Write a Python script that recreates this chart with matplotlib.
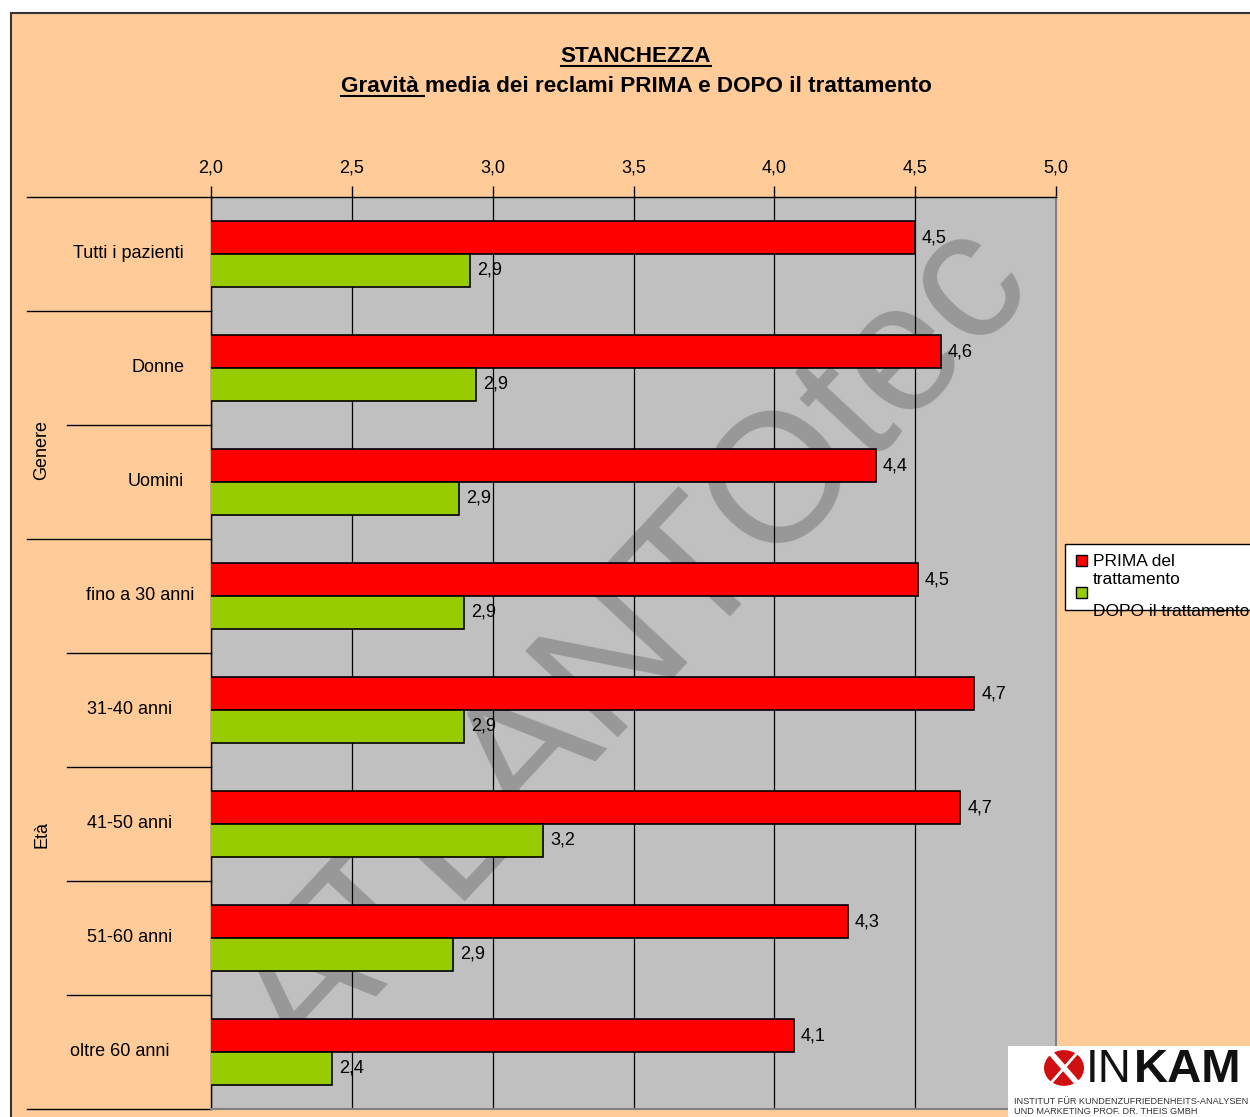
import numpy as np
import matplotlib.pyplot as plt
from matplotlib.patches import Rectangle, Circle
from matplotlib.lines import Line2D

plt.rcParams['font.family'] = ['Liberation Sans', 'DejaVu Sans']

# data
categories = ['Tutti i pazienti', 'Donne', 'Uomini', 'fino a 30 anni',
              '31-40 anni', '41-50 anni', '51-60 anni', 'oltre 60 anni']
prima = [4.50, 4.59, 4.36, 4.51, 4.71, 4.66, 4.26, 4.07]
dopo = [2.92, 2.94, 2.88, 2.90, 2.90, 3.18, 2.86, 2.43]
groups = ['Genere', 'Età']
series_names = ['PRIMA del\ntrattamento', 'DOPO il trattamento']
xticks = [2.0, 2.5, 3.0, 3.5, 4.0, 4.5, 5.0]

W, H = 1250, 1117
def fx(px):
    return px / W
def fy(py):
    return 1 - py / H

RED = '#FF0000'
GREEN = '#99CC00'
PEACH = '#FFCC99'

fig = plt.figure(figsize=(12.5, 11.17), dpi=100)
fig.patch.set_facecolor('white')
fig.add_artist(Rectangle((fx(11), -0.05), 1.0, fy(13) + 0.05, transform=fig.transFigure,
                         facecolor=PEACH, edgecolor='#333333', lw=1.5, zorder=0))

ax = fig.add_axes([fx(211), fy(1109), (1056 - 211) / W, (1109 - 197) / H])
ax.set_facecolor('#C0C0C0')
ax.set_xlim(2, 5)
ax.set_ylim(len(categories) - 0.5, -0.5)

ax.xaxis.tick_top()
ax.set_xticks(xticks)
ax.set_xticklabels([f'{t:.1f}'.replace('.', ',') for t in xticks])
ax.tick_params(axis='x', direction='out', length=8, width=1, pad=7, labelsize=13,
               top=True, bottom=False, labelbottom=False)
ax.set_yticks([])
ax.set_axisbelow(True)
ax.grid(axis='x', color='black', lw=0.9)
for s in ['top', 'left']:
    ax.spines[s].set_color('black')
    ax.spines[s].set_linewidth(1)
for s in ['right', 'bottom']:
    ax.spines[s].set_color('#808080')
    ax.spines[s].set_linewidth(1.5)

# watermark
ax.text(3.51, 3.45, 'ATLANTOtec', rotation=47, fontsize=132, color='#989898',
        ha='center', va='center', zorder=0.2, clip_on=True)

y = np.arange(len(categories))
h = 0.286
ax.barh(y - h / 2, prima, height=h, color=RED, edgecolor='black', lw=1.2, zorder=3)
ax.barh(y + h / 2, dopo, height=h, color=GREEN, edgecolor='black', lw=1.2, zorder=3)
for yi, v in zip(y - h / 2, prima):
    ax.annotate(f'{v:.1f}'.replace('.', ','), xy=(v, yi), xytext=(5, 0),
                textcoords='offset points', va='center', ha='left', fontsize=13, zorder=4)
for yi, v in zip(y + h / 2, dopo):
    ax.annotate(f'{v:.1f}'.replace('.', ','), xy=(v, yi), xytext=(5, 0),
                textcoords='offset points', va='center', ha='left', fontsize=13, zorder=4)

# category labels and separators on the left
tr = ax.get_yaxis_transform()
def axx(px):
    return (px - 211) / 845
label_px = [128, 158, 156, 140, 130, 130, 130, 120]
for yi, lab, px in zip(y, categories, label_px):
    ax.text(axx(px), yi, lab, transform=tr, ha='center', va='center', fontsize=13, clip_on=False)
sep_start = [27, 27, 67, 27, 67, 67, 67, 67, 27]
for b, px in zip(np.arange(-0.5, len(categories)), sep_start):
    ax.add_line(Line2D([axx(px), 0], [b, b], transform=tr, color='black', lw=1, clip_on=False))
ax.text(axx(42), (450 - 197) / 114 - 0.5, groups[0], transform=tr, rotation=90,
        ha='center', va='center', fontsize=13, clip_on=False)
ax.text(axx(42), (835 - 197) / 114 - 0.5, groups[1], transform=tr, rotation=90,
        ha='center', va='center', fontsize=13, clip_on=False)

# title with underlines
t1 = fig.text(fx(636), fy(56), 'STANCHEZZA', ha='center', va='center', fontsize=16.2, fontweight='bold')
line2 = 'Gravità media dei reclami PRIMA e DOPO il trattamento'
t2 = fig.text(fx(636), fy(86), line2, ha='center', va='center', fontsize=16.2, fontweight='bold')
fig.canvas.draw()
r = fig.canvas.get_renderer()
b1 = t1.get_window_extent(r)
b2 = t2.get_window_extent(r)
tmp = fig.text(0, 0, 'Gravità', fontsize=16.2, fontweight='bold')
wg = tmp.get_window_extent(r).width
tmp.remove()
fig.add_artist(Line2D([b1.x0 / W, b1.x1 / W], [(b1.y0 + 1) / H] * 2, transform=fig.transFigure,
                      color='black', lw=1.5))
fig.add_artist(Line2D([b2.x0 / W, (b2.x0 + wg + 6) / W], [(b2.y0 + 1) / H] * 2,
                      transform=fig.transFigure, color='black', lw=1.5))

# legend
fig.add_artist(Rectangle((fx(1065), fy(610)), 0.2, (610 - 544) / H, transform=fig.transFigure,
                         facecolor='white', edgecolor='black', lw=1, zorder=2))
fig.add_artist(Rectangle((fx(1076), fy(566)), 11 / W, 11 / H, transform=fig.transFigure,
                         facecolor=RED, edgecolor='black', lw=1, zorder=3))
fig.add_artist(Rectangle((fx(1076), fy(598)), 11 / W, 11 / H, transform=fig.transFigure,
                         facecolor=GREEN, edgecolor='black', lw=1, zorder=3))
fig.text(fx(1093), fy(570), series_names[0], ha='left', va='center', fontsize=12.5,
         linespacing=1.25, zorder=4)
fig.text(fx(1093), fy(611), series_names[1], ha='left', va='center', fontsize=12.5, zorder=4)

# logo
fig.add_artist(Rectangle((fx(1008), -0.01), 0.2, fy(1046) + 0.01, transform=fig.transFigure,
                         facecolor='white', edgecolor='none', zorder=2))
fig.add_artist(Circle((fx(1064), fy(1068)), 20 / W, transform=fig.transFigure,
                      facecolor='#D01010', edgecolor='none', zorder=3))
fig.add_artist(Line2D([fx(1050), fx(1078)], [fy(1052), fy(1084)], transform=fig.transFigure,
                      color='white', lw=4, zorder=4))
fig.add_artist(Line2D([fx(1050), fx(1078)], [fy(1084), fy(1052)], transform=fig.transFigure,
                      color='white', lw=2, zorder=4))
fig.text(fx(1086), fy(1070), 'IN', ha='left', va='center', fontsize=33, fontweight='light',
         color='#111111', zorder=5)
fig.text(fx(1134), fy(1070), 'KAM', ha='left', va='center', fontsize=34, fontweight='bold',
         color='#111111', zorder=5)
fig.text(fx(1014), fy(1101), 'INSTITUT FÜR KUNDENZUFRIEDENHEITS-ANALYSEN', ha='left', va='center',
         fontsize=6.6, color='#333333', zorder=5)
fig.text(fx(1014), fy(1111), 'UND MARKETING PROF. DR. THEIS GMBH', ha='left', va='center',
         fontsize=6.6, color='#333333', zorder=5)

fig.savefig('out.png', dpi=100, facecolor=fig.get_facecolor())
